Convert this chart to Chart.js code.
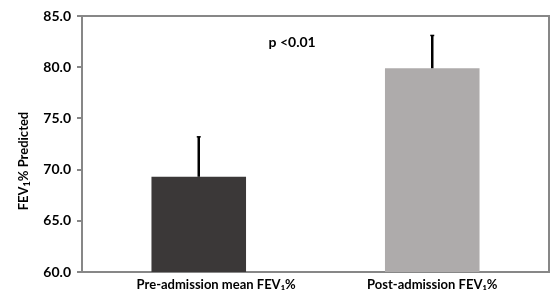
<!DOCTYPE html>
<html>
<head>
<meta charset="utf-8">
<script src="https://cdn.jsdelivr.net/npm/chart.js@4.4.0/dist/chart.umd.min.js"></script>
<style>
  html, body { margin: 0; padding: 0; background: #fff; overflow: hidden; }
  #wrap { width: 550px; height: 303px; }
</style>
</head>
<body>
<div id="wrap"><canvas id="fevChart"></canvas></div>
<script>
  // values
  const categories = ['           Pre-admission mean FEV₁%', 'Post-admission FEV₁%'];
  const meanValues = [69.3, 79.9];
  const errorTops = [73.2, 83.1]; // top of the error whisker
  const barColors = ['#3b3838', '#aeabab'];
  const yTicks = [60, 65, 70, 75, 80, 85];
  const pText = 'p <0.01';
  const pAt = [0.4, 82.4]; // [category index, value]
  const yTitle = ['FEV', '1', '% Predicted'];

  const axisGray = '#878787';

  // box lines on top and right of plot area
  const frame = {
    id: 'frame',
    beforeDatasetsDraw(chart) {
      const { ctx, chartArea: a } = chart;
      ctx.save();
      ctx.strokeStyle = axisGray;
      ctx.lineWidth = 2;
      ctx.beginPath();
      ctx.moveTo(a.left, a.top);
      ctx.lineTo(a.right, a.top);
      ctx.lineTo(a.right, a.bottom);
      ctx.stroke();
      ctx.restore();
    }
  };

  // error whiskers (upper only) + p value + y title
  const extras = {
    id: 'extras',
    afterDatasetsDraw(chart) {
      const { ctx, scales: { x, y }, chartArea: a } = chart;
      const bars = chart.getDatasetMeta(0).data;
      ctx.save();
      ctx.strokeStyle = '#000';
      ctx.lineWidth = 2.5;
      bars.forEach((bar, i) => {
        const top = y.getPixelForValue(errorTops[i]);
        ctx.beginPath();
        ctx.moveTo(bar.x, y.getPixelForValue(meanValues[i]));
        ctx.lineTo(bar.x, top);
        ctx.stroke();
        ctx.beginPath();
        ctx.lineWidth = 1.5;
        ctx.moveTo(bar.x - 2, top);
        ctx.lineTo(bar.x + 2, top);
        ctx.stroke();
        ctx.lineWidth = 2.5;
      });

      ctx.fillStyle = '#000';
      ctx.font = 'bold 14px Lato, sans-serif';
      ctx.textAlign = 'center';
      ctx.textBaseline = 'middle';
      ctx.fillText(pText, x.getPixelForValue(pAt[0]), y.getPixelForValue(pAt[1]));

      // rotated y title with a real subscript
      ctx.translate(23.5, (a.top + a.bottom) / 2 + 17);
      ctx.rotate(-Math.PI / 2);
      const big = 'bold 13px Lato, sans-serif';
      const small = 'bold 9px Lato, sans-serif';
      ctx.font = big;
      const w0 = ctx.measureText(yTitle[0]).width;
      const w2 = ctx.measureText(yTitle[2]).width;
      ctx.font = small;
      const w1 = ctx.measureText(yTitle[1]).width;
      let cx = -(w0 + w1 + w2) / 2;
      ctx.textAlign = 'left';
      ctx.font = big;
      ctx.fillText(yTitle[0], cx, 0);
      cx += w0;
      ctx.font = small;
      ctx.fillText(yTitle[1], cx, 4);
      cx += w1;
      ctx.font = big;
      ctx.fillText(yTitle[2], cx, 0);
      ctx.restore();
    }
  };

  const ctx = document.getElementById('fevChart').getContext('2d');

  const fevChart = new Chart(ctx, {
    type: 'bar',
    data: {
      labels: categories,
      datasets: [{
        data: meanValues,
        backgroundColor: barColors,
        borderWidth: 0,
        categoryPercentage: 1.0,
        barPercentage: 0.405
      }]
    },
    options: {
      responsive: true,
      maintainAspectRatio: false,
      animation: false,
      layout: { padding: { top: 16, right: 1, left: 0, bottom: 0 } },
      plugins: {
        legend: { display: false },
        tooltip: { enabled: false }
      },
      scales: {
        x: {
          grid: { display: true, drawOnChartArea: false, drawTicks: false },
          border: { color: axisGray, width: 2 },
          ticks: {
            color: '#000',
            padding: 5,
            maxRotation: 0,
            font: { family: 'Lato', weight: 'bold', size: 13 }
          },
          afterFit(scale) { scale.height = 31; }
        },
        y: {
          min: 60,
          max: 85,
          afterBuildTicks(scale) { scale.ticks = yTicks.map(v => ({ value: v })); },
          grid: { drawOnChartArea: false, tickLength: 5, tickColor: axisGray, lineWidth: 2 },
          border: { color: axisGray, width: 2 },
          ticks: {
            color: '#000',
            padding: 6,
            font: { family: 'Lato', weight: 'bold', size: 14 },
            callback: v => v.toFixed(1)
          },
          afterFit(scale) { scale.width = 82; }
        }
      }
    },
    plugins: [frame, extras]
  });
</script>
</body>
</html>
